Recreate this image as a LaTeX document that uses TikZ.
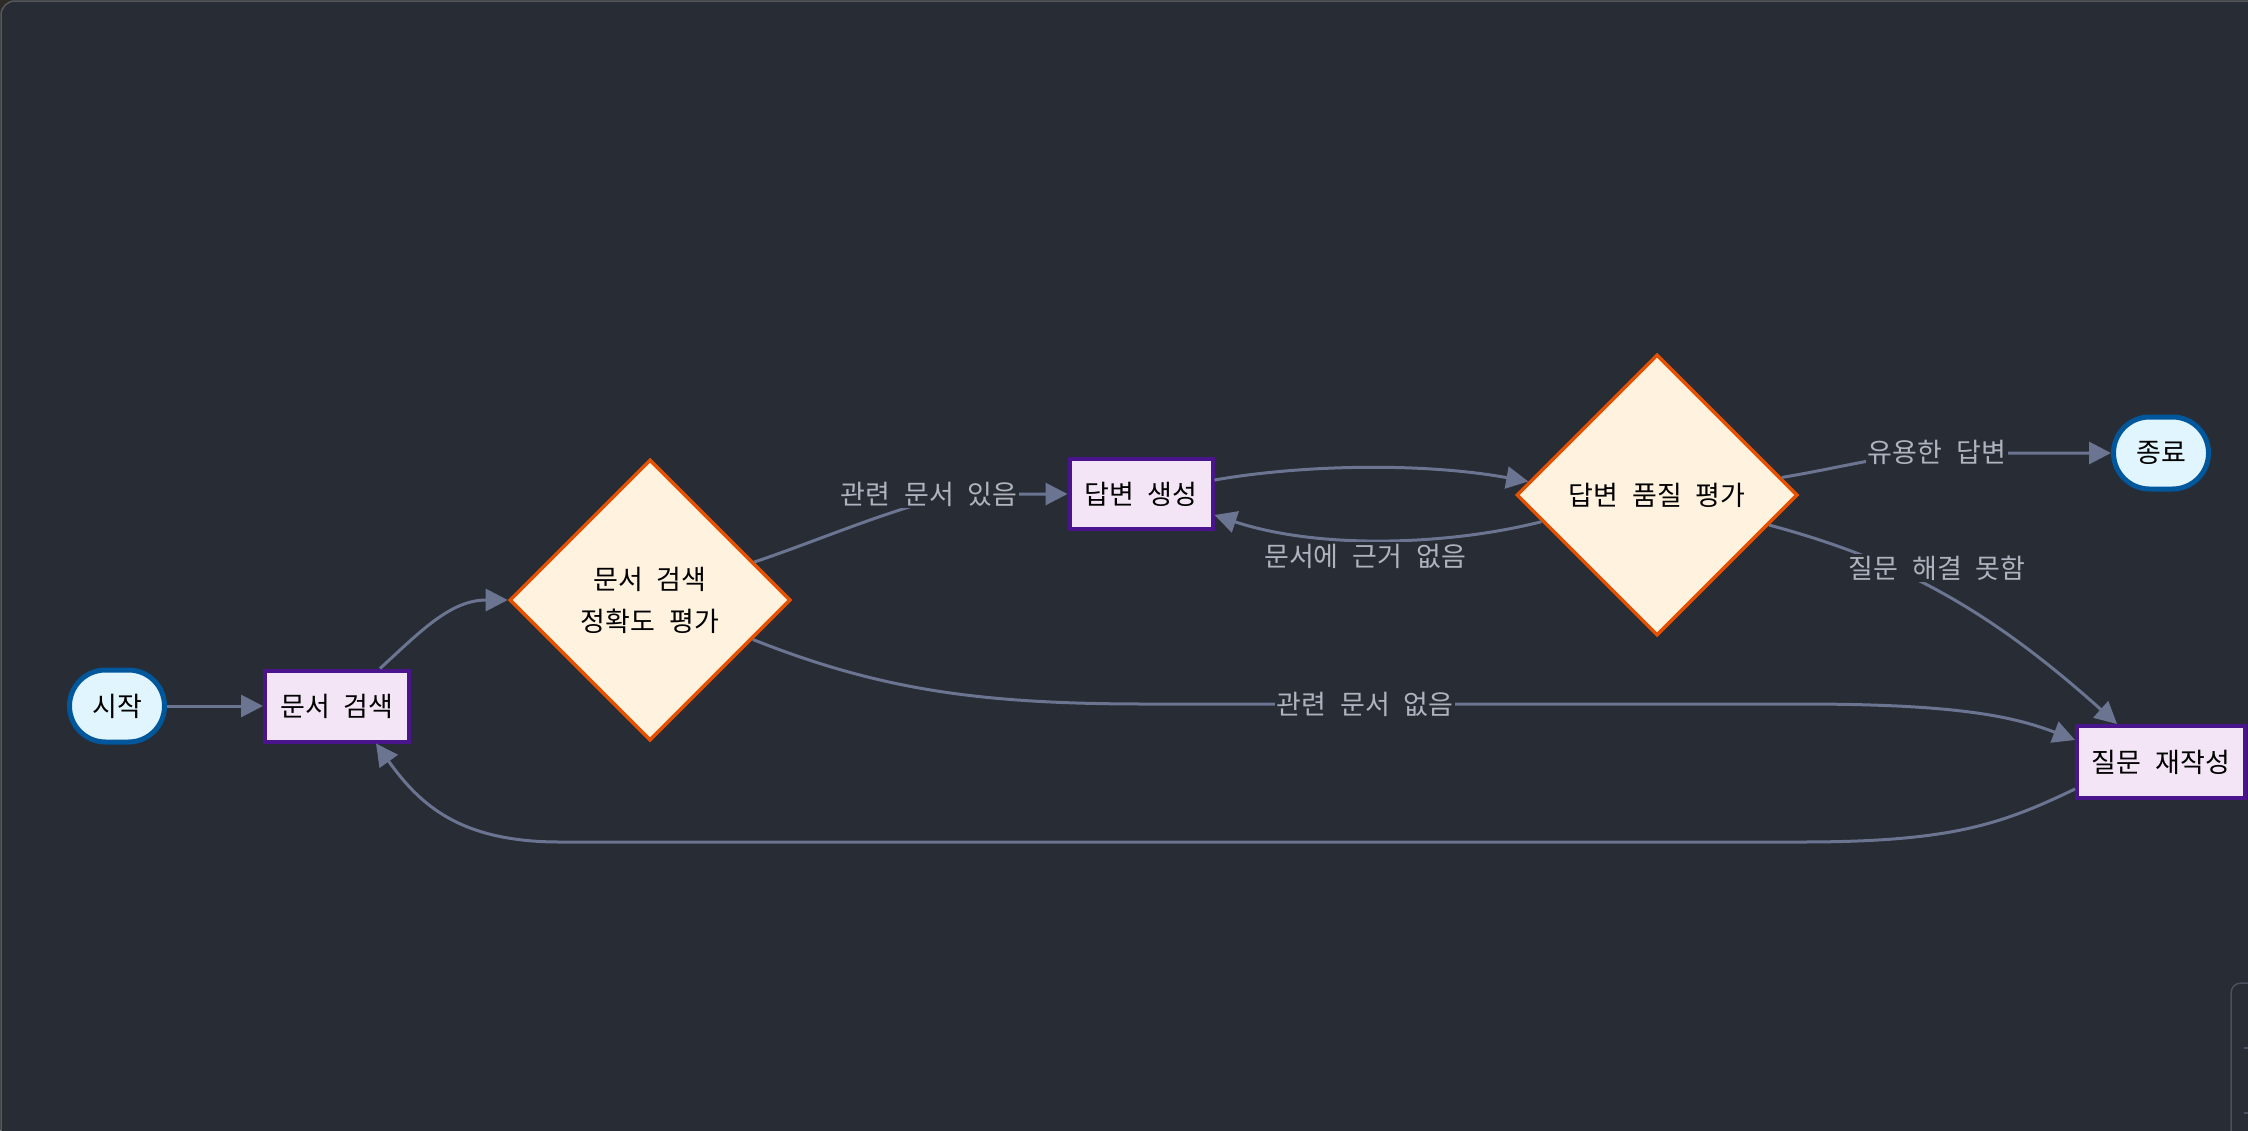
\documentclass[tikz,border=0pt]{standalone}
\usepackage{fontspec}
\setmainfont[WordSpace=2.3]{Noto Sans CJK KR}
\usetikzlibrary{arrows.meta,shapes.geometric,shapes.misc}
\definecolor{bg}{HTML}{282C34}
\definecolor{outer}{HTML}{2C2B28}
\definecolor{frameline}{HTML}{55585E}
\definecolor{panelline}{HTML}{4B5060}
\definecolor{edgec}{HTML}{6B7591}
\definecolor{labelc}{HTML}{AEB3BF}
\definecolor{termfill}{HTML}{E1F5FE}
\definecolor{termline}{HTML}{01579B}
\definecolor{procfill}{HTML}{F3E5F5}
\definecolor{procline}{HTML}{4A148C}
\definecolor{decfill}{HTML}{FFF3E0}
\definecolor{decline}{HTML}{E65100}
\tikzset{
  basefont/.style={font=\fontsize{27}{42}\selectfont},
  termbox/.style={rounded rectangle, draw=termline, fill=termfill, line width=5pt,
    minimum width=95pt, minimum height=72pt, inner sep=0pt, basefont, text=black},
  procbox/.style={rectangle, draw=procline, fill=procfill, line width=4pt,
    minimum height=71pt, inner sep=0pt, basefont, text=black},
  decbox/.style={diamond, draw=decline, fill=decfill, line width=3.5pt,
    minimum width=281pt, minimum height=281pt, inner sep=0pt, basefont, text=black, align=center},
  flow/.style={draw=edgec, line width=3pt, -{Triangle[length=22pt,width=22pt]}},
  flowlabel/.style={fill=bg, text=labelc, inner sep=2pt, basefont}
}
\begin{document}
\begin{tikzpicture}[x=1pt,y=-1pt]
\useasboundingbox (0,0) rectangle (2248,1130);
\clip (0,0) rectangle (2248,1130);
\fill[outer] (0,0) rectangle (2248,1130);
\draw[frameline, fill=bg, line width=1.5pt, rounded corners=14pt] (1,1) rectangle (2270,1150);
\draw[panelline, fill=bg, line width=1.5pt, rounded corners=10pt] (2231,983) rectangle (2270,1150);
\draw[panelline, line width=1.5pt] (2244,1048) -- (2248,1048) (2244,1113) -- (2248,1113);

% nodes
\node[termbox] (start) at (117,706) {시작};
\node[procbox, minimum width=144pt] (search) at (337,706) {문서 검색};
\node[decbox] (eval1) at (650,600) {문서 검색\\정확도 평가};
\node[procbox, minimum width=143pt, minimum height=70pt] (gen) at (1141,494) {답변 생성};
\node[decbox] (eval2) at (1657,495) {답변 품질 평가};
\node[termbox] (finish) at (2161,453) {종료};
\node[procbox, minimum width=168pt, minimum height=72pt] (rewrite) at (2161,762) {질문 재작성};

% edges
\draw[flow] (start.east) -- (search.west);
\draw[flow] ([xshift=43pt]search.north) .. controls (420,632) and (450,600) .. (eval1.180);
\draw[flow] (eval1.20) .. controls (820,540) and (900,505) .. (960,494) -- (gen.west);
\draw[flow] ([yshift=14pt]gen.east) .. controls (1300,465) and (1420,462) .. (eval2.174);
\draw[flow] (eval2.193) .. controls (1450,545) and (1320,550) .. ([yshift=-21pt]gen.east);
\draw[flow] (eval2.8) .. controls (1850,466) and (1890,453) .. (1950,453) -- (finish.west);
\draw[flow] (eval2.345) .. controls (1900,560) and (1990,610) .. ([xshift=-44pt]rewrite.north);
\draw[flow] (eval1.339) .. controls (880,690) and (980,704) .. (1147,704) -- (1800,704) .. controls (1950,704) and (2010,715) .. ([yshift=22pt]rewrite.west);
\draw[flow] ([yshift=-27pt]rewrite.west) .. controls (2000,825) and (1950,842) .. (1800,842) -- (560,842) .. controls (460,842) and (420,805) .. ([xshift=39pt]search.south);

% labels
\node[flowlabel] (l1) at (929,494) {관련 문서 있음};
\node[flowlabel] (l2) at (1365,556) {문서에 근거 없음};
\node[flowlabel] (l3) at (1937,452) {유용한 답변};
\node[flowlabel] (l4) at (1937,568) {질문 해결 못함};
\node[flowlabel] (l5) at (1365,704) {관련 문서 없음};
\end{tikzpicture}
\end{document}
